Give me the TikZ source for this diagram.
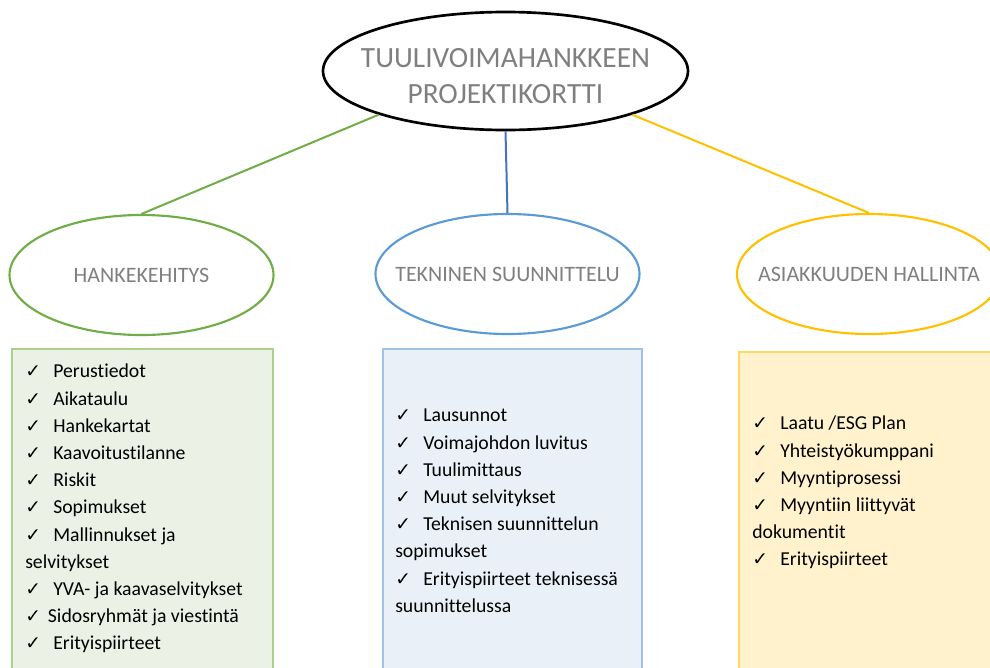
\documentclass[tikz,border=0pt]{standalone}
\usepackage{fontspec}
\setmainfont[Ligatures=CommonOff]{Carlito}
\newfontfamily\symfont{DejaVu Sans}
\usepackage{xcolor}
\usetikzlibrary{shapes.geometric,positioning}

\definecolor{hubgrey}{HTML}{7F7F7F}
\definecolor{devgreen}{HTML}{70AD47}
\definecolor{techblue}{HTML}{5B9BD5}
\definecolor{linkblue}{HTML}{4472C4}
\definecolor{custgold}{HTML}{FFC000}
\definecolor{devfill}{HTML}{EBF1E4}
\definecolor{devedge}{HTML}{A9D18E}
\definecolor{techfill}{HTML}{E9F0F8}
\definecolor{techedge}{HTML}{9DC3E6}
\definecolor{custfill}{HTML}{FFF2CC}
\definecolor{custedge}{HTML}{FFD966}

\newcommand{\chk}{\makebox[21pt][l]{\symfont\fontsize{14}{14}\selectfont ✓}}
\newcommand{\chkn}{\makebox[17pt][l]{\symfont\fontsize{14}{14}\selectfont ✓}}

\tikzset{
  hub/.style={ellipse, draw=black, line width=2pt, minimum width=273.75pt, minimum height=88.5pt, inner sep=0pt},
  hubtext/.style={text=hubgrey, align=center, font=\fontsize{22}{27}\selectfont},
  topic/.style={ellipse, draw=#1, line width=1.6pt, minimum width=198pt, minimum height=90pt, inner sep=0pt},
  topictext/.style={text=hubgrey, font=\fontsize{16.5}{20}\selectfont},
  link/.style={draw=#1, line width=1.5pt},
  listbox/.style={draw=#1, line width=0.9pt},
  listtext/.style={anchor=north west, inner sep=0pt, align=left, font=\fontsize{14.8}{20.4}\selectfont}
}

\begin{document}
\begin{tikzpicture}[x=0.75pt,y=0.75pt,yscale=-1,xscale=1]
	\useasboundingbox (0,0) rectangle (990,668);
	\clip (0,0) rectangle (990,668);

	% Main card
	\node[hub, label={[hubtext, yshift=-4pt, name=hublabel]center:TUULIVOIMAHANKKEEN\\PROJEKTIKORTTI}] (hub) at (505.5,71) {};

	% Topics
	\node[topic=devgreen, label={[topictext, name=devlabel]center:HANKEKEHITYS}] (dev) at (141.5,275) {};
	\node[topic=techblue, label={[topictext, name=techlabel]center:TEKNINEN SUUNNITTELU}] (tech) at (507.5,274) {};
	\node[topic=custgold, label={[topictext, name=custlabel]center:ASIAKKUUDEN HALLINTA}] (cust) at (869,274) {};

	% Connections
	\draw[link=devgreen] (hub.199) -- (dev.north);
	\draw[link=linkblue] (hub.south) -- (tech.north);
	\draw[link=custgold] (hub.341) -- (cust.north);

	% List boxes
	\filldraw[listbox=devedge, fill=devfill] (12,349) rectangle (273,690);
	\filldraw[listbox=techedge, fill=techfill] (383,349) rectangle (642,690);
	\filldraw[listbox=custedge, fill=custfill] (739,352) rectangle (1010,690);

	% Lists
	\node[listtext] (devlist) at (25,364) {%
		\chk Perustiedot\\
		\chk Aikataulu\\
		\chk Hankekartat\\
		\chk Kaavoitustilanne\\
		\chk Riskit\\
		\chk Sopimukset\\
		\chk Mallinnukset ja\\
		selvitykset\\
		\chk YVA- ja kaavaselvitykset\\
		\chkn Sidosryhmät ja viestintä\\
		\chk Erityispiirteet};
	\node[listtext] (techlist) at (395,409) {%
		\chk Lausunnot\\
		\chk Voimajohdon luvitus\\
		\chk Tuulimittaus\\
		\chk Muut selvitykset\\
		\chk Teknisen suunnittelun\\
		sopimukset\\
		\chk Erityispiirteet teknisessä\\
		suunnittelussa};
	\node[listtext] (custlist) at (752,416) {%
		\chk Laatu /ESG Plan\\
		\chk Yhteistyökumppani\\
		\chk Myyntiprosessi\\
		\chk Myyntiin liittyvät\\
		dokumentit\\
		\chk Erityispiirteet};
\end{tikzpicture}
\end{document}
